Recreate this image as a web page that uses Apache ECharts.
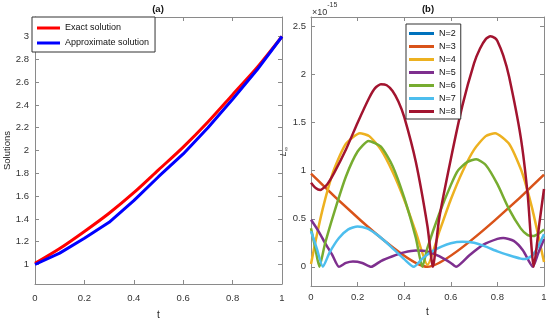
<!DOCTYPE html>
<html><head><meta charset="utf-8">
<script src="https://cdn.jsdelivr.net/npm/echarts@6/dist/echarts.min.js"></script>
<style>html,body{margin:0;padding:0;background:#fff}#c{width:550px;height:325px}</style>
</head><body><div id="c"></div>
<script>
// ---- Panel (a) data ----
const tA = [0, 0.1, 0.2, 0.3, 0.4, 0.5, 0.6, 0.7, 0.8, 0.9, 1];
const exactSol = [1.01, 1.14, 1.29, 1.45, 1.63, 1.83, 2.03, 2.25, 2.49, 2.73, 3.0];
const approxSol = [1.0, 1.10, 1.23, 1.37, 1.56, 1.77, 1.97, 2.20, 2.45, 2.71, 3.0];
const xTicks = [0, 0.2, 0.4, 0.6, 0.8, 1];
const yTicksA = [1, 1.2, 1.4, 1.6, 1.8, 2, 2.2, 2.4, 2.6, 2.8, 3];

// ---- Panel (b) data (units of 1e-15) ----
const yTicksB = [0, 0.5, 1, 1.5, 2, 2.5];
const t2 = [];
const n2 = [];
const t3 = [0, 0.5, 1];
const n3 = [0.97, 0.0, 0.96];
const t4 = [0, 0.025, 0.05, 0.075, 0.1, 0.15, 0.21, 0.25, 0.3, 0.35, 0.4, 0.45, 0.5, 0.55, 0.6, 0.65, 0.7, 0.75, 0.79, 0.85, 0.9, 0.925, 0.95, 0.975, 1];
const n4 = [0.03, 0.33, 0.60, 0.83, 1.02, 1.28, 1.39, 1.36, 1.22, 0.99, 0.70, 0.36, 0.02, 0.36, 0.70, 0.99, 1.22, 1.36, 1.39, 1.28, 1.02, 0.83, 0.60, 0.33, 0.05];
const t5 = [0, 0.03, 0.06, 0.09, 0.12, 0.15, 0.18, 0.22, 0.258, 0.3, 0.35, 0.4, 0.45, 0.5, 0.55, 0.6, 0.623, 0.68, 0.74, 0.8, 0.825, 0.87, 0.91, 0.952, 0.975, 1];
const n5 = [0.49, 0.38, 0.25, 0.13, 0.0, 0.04, 0.055, 0.04, 0.0, 0.06, 0.11, 0.15, 0.17, 0.16, 0.11, 0.04, 0.0, 0.12, 0.23, 0.29, 0.30, 0.27, 0.17, 0.0, 0.14, 0.29];
const t6 = [0, 0.018, 0.036, 0.06, 0.1, 0.15, 0.2, 0.247, 0.3, 0.35, 0.4, 0.45, 0.478, 0.5, 0.55, 0.6, 0.63, 0.67, 0.709, 0.75, 0.8, 0.85, 0.9, 0.93, 0.955, 0.98, 1];
const n6 = [0.40, 0.20, 0.0, 0.24, 0.57, 0.94, 1.20, 1.31, 1.25, 1.05, 0.72, 0.30, 0.0, 0.20, 0.55, 0.85, 1.0, 1.09, 1.12, 1.06, 0.86, 0.60, 0.40, 0.33, 0.32, 0.35, 0.39];
const t7 = [0, 0.025, 0.051, 0.08, 0.12, 0.16, 0.2, 0.24, 0.28, 0.32, 0.36, 0.4, 0.441, 0.48, 0.52, 0.56, 0.6, 0.65, 0.7, 0.75, 0.8, 0.85, 0.9, 0.92, 0.95, 0.975, 1];
const n7 = [0.37, 0.19, 0.0, 0.15, 0.30, 0.39, 0.42, 0.40, 0.34, 0.26, 0.17, 0.08, 0.0, 0.09, 0.16, 0.21, 0.245, 0.26, 0.25, 0.21, 0.16, 0.12, 0.085, 0.08, 0.12, 0.21, 0.34];
const t8 = [0, 0.02, 0.04, 0.07, 0.1, 0.15, 0.2, 0.25, 0.275, 0.3, 0.325, 0.35, 0.375, 0.4, 0.45, 0.5, 0.523, 0.55, 0.6, 0.65, 0.7, 0.725, 0.75, 0.77, 0.79, 0.8, 0.825, 0.85, 0.9, 0.93, 0.956, 0.98, 1];
const n8 = [0.875, 0.82, 0.80, 0.86, 0.98, 1.22, 1.50, 1.76, 1.86, 1.90, 1.89, 1.83, 1.72, 1.56, 1.09, 0.42, 0.0, 0.50, 1.12, 1.68, 2.12, 2.27, 2.37, 2.40, 2.38, 2.35, 2.20, 1.98, 1.35, 0.75, 0.0, 0.45, 0.81];

const seriesB = [
  {name: 'N=2', t: t2, v: n2, color: '#0072BD'},
  {name: 'N=3', t: t3, v: n3, color: '#D95319'},
  {name: 'N=4', t: t4, v: n4, color: '#EDB120'},
  {name: 'N=5', t: t5, v: n5, color: '#7E2F8E'},
  {name: 'N=6', t: t6, v: n6, color: '#77AC30'},
  {name: 'N=7', t: t7, v: n7, color: '#4DBEEE'},
  {name: 'N=8', t: t8, v: n8, color: '#A2142F'}
];

const FONT = '"Liberation Sans", Arial, sans-serif';
const AX = '#8a8a8a';
const zip = (t, v) => t.map((x, i) => [x, v[i]]);

function axisBase(extra) {
  return Object.assign({
    type: 'value',
    axisLine: {show: true, onZero: false, lineStyle: {color: AX, width: 1}},
    splitLine: {show: false},
  }, extra);
}
const lbl = (size, margin, vals) => {
  const o = {color: '#333', fontSize: size, fontFamily: FONT, margin: margin};
  if (vals) { o.customValues = vals; }
  return o;
};
const tick = (vals) => {
  const o = {show: true, inside: true, length: 4, lineStyle: {color: AX}};
  if (vals) { o.customValues = vals; }
  return o;
};

const chart = echarts.init(document.getElementById('c'), null, {renderer: 'canvas'});
const option = {
  animation: false,
  backgroundColor: '#fff',
  grid: [
    {left: 35, top: 17, width: 247, height: 274},
    {left: 311, top: 17, width: 233, height: 269}
  ],
  xAxis: [
    axisBase({gridIndex: 0, position: 'bottom', min: 0, max: 1, interval: 0.2,
      axisTick: tick(), axisLabel: lbl(9.5, 9),
      name: 't', nameLocation: 'middle', nameGap: 26,
      nameTextStyle: {fontSize: 10, fontFamily: FONT, color: '#222'}}),
    axisBase({gridIndex: 0, position: 'top', min: 0, max: 1, interval: 0.2,
      axisTick: tick(), axisLabel: {show: false}}),
    axisBase({gridIndex: 1, position: 'bottom', min: 0, max: 1, interval: 0.2,
      axisTick: tick(), axisLabel: lbl(9.5, 6),
      name: 't', nameLocation: 'middle', nameGap: 21,
      nameTextStyle: {fontSize: 10, fontFamily: FONT, color: '#222'}}),
    axisBase({gridIndex: 1, position: 'top', min: 0, max: 1, interval: 0.2,
      axisTick: tick(), axisLabel: {show: false}})
  ],
  yAxis: [
    axisBase({gridIndex: 0, position: 'left', min: 0.829, max: 3.171,
      axisTick: tick(yTicksA), axisLabel: lbl(9.5, 6, yTicksA),
      name: 'Solutions', nameLocation: 'middle', nameGap: 22, nameRotate: 90,
      nameTextStyle: {fontSize: 9.5, fontFamily: FONT, color: '#222'}}),
    axisBase({gridIndex: 0, position: 'right', min: 0.829, max: 3.171,
      axisTick: tick(yTicksA), axisLabel: {show: false}}),
    axisBase({gridIndex: 1, position: 'left', min: -0.2, max: 2.6,
      axisTick: tick(yTicksB), axisLabel: lbl(9.5, 5, yTicksB),
      name: '{i|L}{s|∞}', nameLocation: 'middle', nameGap: 20, nameRotate: 90,
      nameTextStyle: {fontFamily: FONT, color: '#333',
        rich: {i: {fontSize: 9, fontStyle: 'italic', fontFamily: FONT, color: '#333'},
               s: {fontSize: 6, fontFamily: FONT, color: '#333', verticalAlign: 'bottom', padding: [4, 0, 0, 0]}}}}),
    axisBase({gridIndex: 1, position: 'right', min: -0.2, max: 2.6,
      axisTick: tick(yTicksB), axisLabel: {show: false}})
  ],
  legend: [
    {data: ['Exact solution', 'Approximate solution'], orient: 'vertical',
      left: 32, top: 17, padding: [5, 6, 3, 5], itemGap: 3, itemWidth: 23, itemHeight: 3,
      icon: 'rect', borderColor: '#333', borderWidth: 1, backgroundColor: '#fff',
      textStyle: {fontSize: 9, fontFamily: FONT, color: '#111', lineHeight: 12}},
    {data: seriesB.map(s => s.name), orient: 'vertical',
      left: 406, top: 24, padding: [4, 5, 2, 3], itemGap: 2, itemWidth: 25, itemHeight: 3,
      icon: 'rect', borderColor: '#333', borderWidth: 1, backgroundColor: '#fff',
      textStyle: {fontSize: 9, fontFamily: FONT, color: '#111', lineHeight: 11}}
  ],
  graphic: [
    {type: 'text', x: 158, y: 9, style: {text: '(a)', font: 'bold 9.5px ' + FONT, fill: '#111', textAlign: 'center', textVerticalAlign: 'middle'}},
    {type: 'text', x: 428, y: 9, style: {text: '(b)', font: 'bold 9.5px ' + FONT, fill: '#111', textAlign: 'center', textVerticalAlign: 'middle'}},
    {type: 'text', x: 312, y: 2, style: {text: '{a|×10}{b|-15}',
      rich: {a: {fontSize: 9, fontFamily: FONT, fill: '#333', color: '#333', padding: [6, 0, 0, 0]},
             b: {fontSize: 7, fontFamily: FONT, fill: '#333', color: '#333', verticalAlign: 'top'}}}}
  ],
  series: [
    {name: 'Exact solution', type: 'line', xAxisIndex: 0, yAxisIndex: 0, data: zip(tA, exactSol),
      smooth: 0.3, showSymbol: false, symbol: 'none', color: '#FF0000', lineStyle: {width: 3, color: '#FF0000'}},
    {name: 'Approximate solution', type: 'line', xAxisIndex: 0, yAxisIndex: 0, data: zip(tA, approxSol),
      showSymbol: false, symbol: 'none', color: '#0000FF', lineStyle: {width: 3, color: '#0000FF'}}
  ].concat(seriesB.map(s => ({
    name: s.name, type: 'line', xAxisIndex: 2, yAxisIndex: 2, data: zip(s.t, s.v),
    smooth: 0.2, showSymbol: false, symbol: 'none', color: s.color,
    lineStyle: {width: 2.5, color: s.color}
  })))
};
chart.setOption(option);
</script></body></html>
